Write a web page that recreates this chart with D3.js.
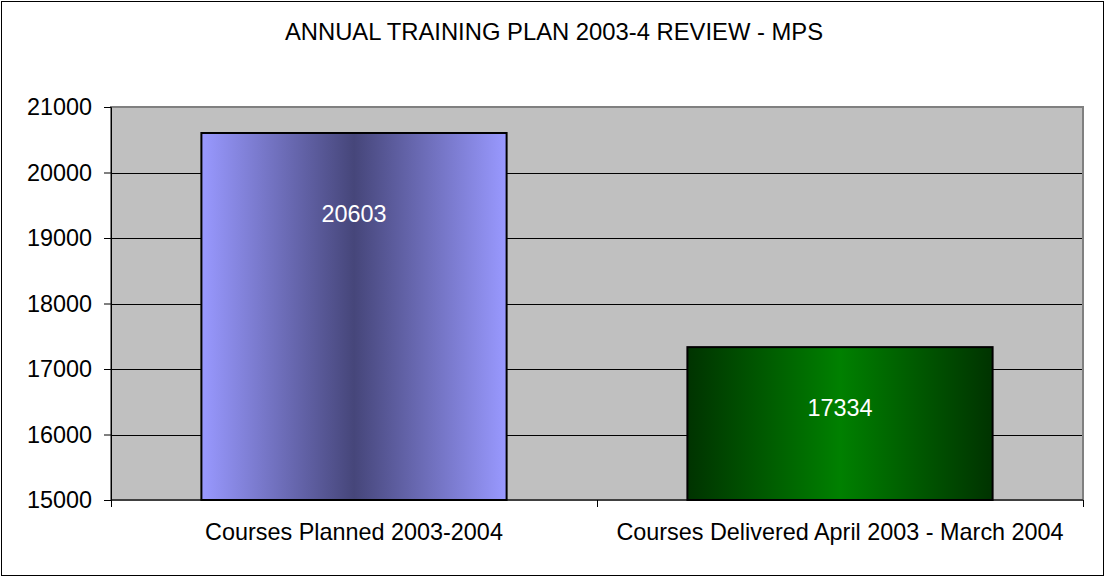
<!DOCTYPE html>
<html>
<head>
<meta charset="utf-8">
<script src="https://cdn.jsdelivr.net/npm/d3@7"></script>
<style>
  html, body { margin: 0; padding: 0; background: #ffffff; }
  svg { display: block; font-family: "Liberation Sans", Arial, sans-serif; }
</style>
</head>
<body>
<svg id="chart" width="1105" height="577"></svg>
<script>
// chart values
const title = "ANNUAL TRAINING PLAN 2003-4 REVIEW - MPS";
const categories = ["Courses Planned 2003-2004", "Courses Delivered April 2003 - March 2004"];
const values = [20603, 17334];
const yTicks = [15000, 16000, 17000, 18000, 19000, 20000, 21000];

// per-bar gradient colours (edge, centre) and label drop below bar top
const barGradients = [["#9999ff", "#46467a"], ["#003300", "#008000"]];
const labelDrop = [89, 69];

const width = 1105;
const height = 577;
const plot = { left: 111, top: 107, right: 1083, bottom: 500 };
const fontSize = 23.4;
const titleSize = 23.8;

const svg = d3.select("#chart");

// outer chart border
svg.append("rect")
  .attr("x", 1.5).attr("y", 1.5)
  .attr("width", width - 3).attr("height", height - 3)
  .attr("fill", "#ffffff")
  .attr("stroke", "#000000")
  .attr("stroke-width", 1);

const x = d3.scaleBand()
  .domain(categories)
  .range([plot.left, plot.right])
  .paddingInner(0.372)
  .paddingOuter(0.186);

const y = d3.scaleLinear()
  .domain([15000, 21000])
  .range([plot.bottom, plot.top]);

// gradients
const defs = svg.append("defs");
barGradients.forEach((g, i) => {
  const grad = defs.append("linearGradient")
    .attr("id", "grad" + i)
    .attr("x1", "0%").attr("x2", "100%")
    .attr("y1", "0%").attr("y2", "0%");
  grad.append("stop").attr("offset", "0%").attr("stop-color", g[0]);
  grad.append("stop").attr("offset", "50%").attr("stop-color", g[1]);
  grad.append("stop").attr("offset", "100%").attr("stop-color", g[0]);
});

// plot area
svg.append("rect")
  .attr("x", plot.left).attr("y", plot.top)
  .attr("width", plot.right - plot.left)
  .attr("height", plot.bottom - plot.top)
  .attr("fill", "#c0c0c0");

// gridlines
svg.append("g")
  .selectAll("line")
  .data(yTicks.filter(d => d > 15000 && d < 21000))
  .join("line")
  .attr("x1", plot.left).attr("x2", plot.right)
  .attr("y1", d => Math.round(y(d)) + 0.5)
  .attr("y2", d => Math.round(y(d)) + 0.5)
  .attr("stroke", "#000000")
  .attr("stroke-width", 1);

// plot area border
svg.append("rect")
  .attr("x", plot.left).attr("y", plot.top)
  .attr("width", plot.right - plot.left)
  .attr("height", plot.bottom - plot.top)
  .attr("fill", "none")
  .attr("stroke", "#808080")
  .attr("stroke-width", 2);

// bars
svg.append("g")
  .selectAll("rect")
  .data(values)
  .join("rect")
  .attr("x", (d, i) => x(categories[i]))
  .attr("y", d => y(d))
  .attr("width", x.bandwidth())
  .attr("height", d => y(15000) - y(d))
  .attr("fill", (d, i) => `url(#grad${i})`)
  .attr("stroke", "#000000")
  .attr("stroke-width", 2);

// value labels
svg.append("g")
  .selectAll("text")
  .data(values)
  .join("text")
  .attr("x", (d, i) => x(categories[i]) + x.bandwidth() / 2)
  .attr("y", (d, i) => y(d) + labelDrop[i])
  .attr("text-anchor", "middle")
  .attr("font-size", fontSize)
  .attr("fill", "#ffffff")
  .text(d => d);

// y axis
const yAxis = d3.axisLeft(y)
  .tickValues(yTicks)
  .tickSize(7)
  .tickPadding(12)
  .tickFormat(d3.format("d"));

const yg = svg.append("g")
  .attr("transform", `translate(${plot.left},0)`)
  .call(yAxis);
yg.select(".domain").attr("stroke", "#000000");
yg.selectAll(".tick line").attr("stroke", "#000000");
yg.selectAll(".tick text")
  .attr("font-size", fontSize)
  .attr("font-family", "Liberation Sans, Arial, sans-serif")
  .attr("fill", "#000000");

// x axis line and category ticks
svg.append("line")
  .attr("x1", plot.left).attr("x2", plot.right)
  .attr("y1", plot.bottom).attr("y2", plot.bottom)
  .attr("stroke", "#000000");

const boundaries = [plot.left].concat(categories.map(c => x(c) + x.bandwidth() / 2 + x.step() / 2));
svg.append("g")
  .selectAll("line")
  .data(boundaries)
  .join("line")
  .attr("x1", d => Math.round(d) + 0.5).attr("x2", d => Math.round(d) + 0.5)
  .attr("y1", plot.bottom).attr("y2", plot.bottom + 7)
  .attr("stroke", "#000000");

svg.append("g")
  .selectAll("text")
  .data(categories)
  .join("text")
  .attr("x", d => x(d) + x.bandwidth() / 2)
  .attr("y", 540)
  .attr("text-anchor", "middle")
  .attr("font-size", fontSize)
  .attr("fill", "#000000")
  .text(d => d);

// title
svg.append("text")
  .attr("x", 554)
  .attr("y", 40)
  .attr("text-anchor", "middle")
  .attr("font-size", titleSize)
  .attr("fill", "#000000")
  .text(title);
</script>
</body>
</html>
